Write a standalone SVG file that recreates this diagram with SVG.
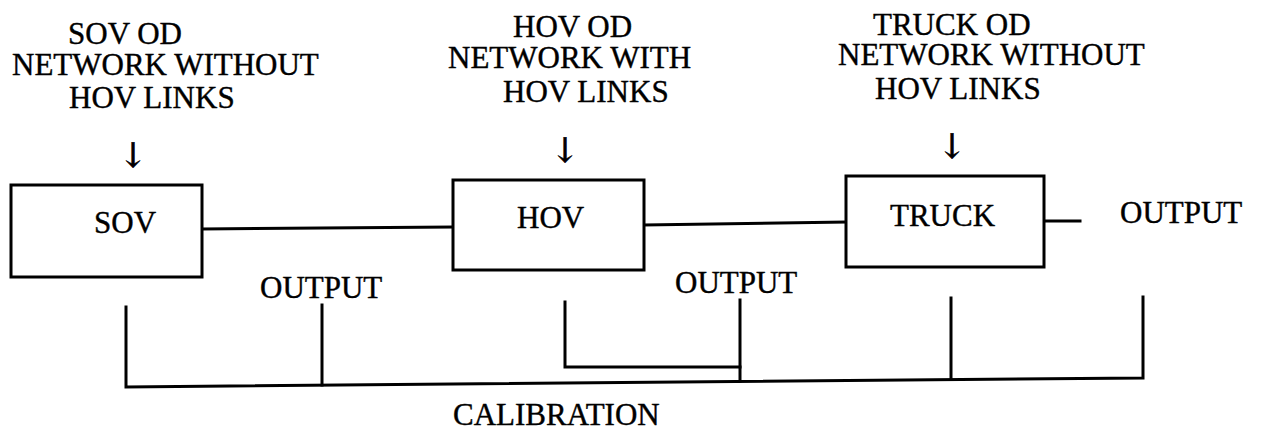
<svg xmlns="http://www.w3.org/2000/svg" width="1261" height="433" viewBox="0 0 1261 433">
<style>
  text { font-family: "Liberation Serif", "DejaVu Serif", serif; font-size: 31px; fill: #000; stroke: #000; stroke-width: 0.4; }
  .box { fill: #fff; stroke: #000; stroke-width: 3; }
  .ln { fill: none; stroke: #000; stroke-width: 3; stroke-linecap: square; }
  .arr { font-family: "DejaVu Serif", "Liberation Serif", serif; font-size: 34px; stroke-width: 0.6; }
</style>
<rect width="1261" height="433" fill="#fff"/>
<g id="connectors">
  <line class="ln" x1="202" y1="229" x2="453" y2="227"/>
  <line class="ln" x1="644" y1="225" x2="846" y2="222"/>
  <line class="ln" x1="1044" y1="221" x2="1080" y2="221"/>
  <polyline class="ln" points="126,307 126,387 1143,378 1143,297"/>
  <line class="ln" x1="322" y1="305" x2="322" y2="385"/>
  <polyline class="ln" points="565,302 565,367 740,367"/>
  <line class="ln" x1="740" y1="300" x2="740" y2="381"/>
  <line class="ln" x1="951" y1="298" x2="951" y2="379"/>
</g>
<g id="sov-input">
  <text x="68" y="44">SOV OD</text>
  <text x="12" y="75">NETWORK WITHOUT</text>
  <text x="69" y="108">HOV LINKS</text>
  <text class="arr" x="133" y="167" text-anchor="middle">↓</text>
</g>
<g id="hov-input">
  <text x="513" y="37">HOV OD</text>
  <text x="448" y="68">NETWORK WITH</text>
  <text x="503" y="102">HOV LINKS</text>
  <text class="arr" x="565" y="162" text-anchor="middle">↓</text>
</g>
<g id="truck-input">
  <text x="873" y="35">TRUCK OD</text>
  <text x="838" y="65">NETWORK WITHOUT</text>
  <text x="875" y="99">HOV LINKS</text>
  <text class="arr" x="952" y="158" text-anchor="middle">↓</text>
</g>
<g id="sov">
  <rect class="box" x="11" y="185" width="191" height="92"/>
  <text x="94" y="233">SOV</text>
</g>
<g id="hov">
  <rect class="box" x="453" y="180" width="191" height="90"/>
  <text x="517" y="228">HOV</text>
</g>
<g id="truck">
  <rect class="box" x="846" y="176" width="198" height="91"/>
  <text x="890" y="226">TRUCK</text>
</g>
<g id="output-sov">
  <text x="260" y="298">OUTPUT</text>
</g>
<g id="output-hov">
  <text x="675" y="293">OUTPUT</text>
</g>
<g id="output-truck">
  <text x="1120" y="223">OUTPUT</text>
</g>
<g id="calibration">
  <text x="453" y="425">CALIBRATION</text>
</g>
</svg>
